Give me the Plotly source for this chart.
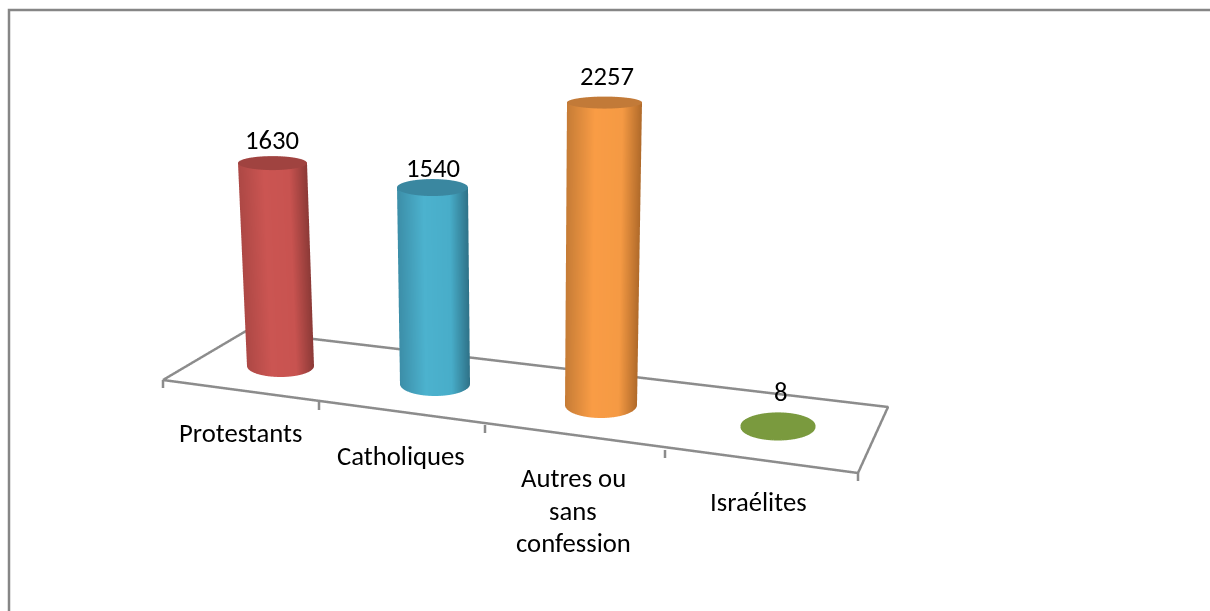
import numpy as np
import plotly.graph_objects as go

categories = ["Protestants", "Catholiques", "Autres ou<br>sans<br>confession", "Israélites"]
values = [1630, 1540, 2257, 8]
side_colors = [
    ["#ad4845", "#cb5552", "#c85350", "#8c3a37"],
    ["#3c8ea8", "#4cb2ce", "#48adc9", "#2f7288"],
    ["#c67c36", "#f99c45", "#f59a44", "#b06a2a"],
    ["#7a9a3e", "#7a9a3e", "#7a9a3e", "#7a9a3e"],
]
top_colors = ["#a04340", "#3a87a0", "#c27a38", "#7a9a3e"]

# Scene geometry, in the scene's own units
W, H = 1210, 611
SIN_EL = 0.27
EL = np.arcsin(SIN_EL)
K = 0.134
Z_RANGE = [-1000, 3000]
D_RANGE = [0, 1000]
S = H / 2
EYE_DIST = 2.414

def depth(py):
    return 500 + (439.5 - py) / SIN_EL

# per cylinder: base centre, lean, half widths and ellipse half heights, perspective factor
base_x = [280.5, 435, 601, 778]
base_py = [366, 384, 405, 427]
top_x = [272.5, 432.5, 604.5, 778]
half_w_base = [33.5, 35, 36, 37.5]
half_w_top = [34.5, 35.5, 37.5, 37.5]
ell_base = [11, 12, 13, 13.5]
ell_top = [7, 8.5, 6, 13.5]
persp = [0.929, 0.952, 1.0, 1.03]

fig = go.Figure()
theta = np.linspace(0, 2 * np.pi, 121)
t = np.linspace(0, 1, 2)
TH, T = np.meshgrid(theta, t)

def side_scale(c):
    return [[0, c[0]], [0.37, c[1]], [0.74, c[2]], [1, c[3]]]

LIGHT = dict(ambient=1, diffuse=0, specular=0, roughness=1, fresnel=0)

for i, v in enumerate(values):
    h = v * persp[i]
    cx = base_x[i] + (top_x[i] - base_x[i]) * T
    rx = half_w_base[i] + (half_w_top[i] - half_w_base[i]) * T
    ry = (ell_base[i] + (ell_top[i] - ell_base[i]) * T) / SIN_EL
    d0 = depth(base_py[i])
    X = cx + rx * np.cos(TH)
    Y = d0 + ry * np.sin(TH)
    Z = h * T
    fig.add_trace(go.Surface(x=X, y=Y, z=Z, surfacecolor=np.cos(TH), cmin=-1, cmax=1,
                             colorscale=side_scale(side_colors[i]), showscale=False,
                             lighting=LIGHT, hoverinfo="skip"))
    # top disc
    r = np.array([0.0, 1.0])
    RR, TH2 = np.meshgrid(r, theta)
    Xt = top_x[i] + half_w_top[i] * RR * np.cos(TH2)
    Yt = d0 + ell_top[i] / SIN_EL * RR * np.sin(TH2)
    Zt = np.full_like(Xt, h)
    fig.add_trace(go.Surface(x=Xt, y=Yt, z=Zt, surfacecolor=np.zeros_like(Xt), cmin=0, cmax=1,
                             colorscale=[[0, top_colors[i]], [1, top_colors[i]]], showscale=False,
                             lighting=LIGHT, hoverinfo="skip"))

# floor outline and ticks
LINE = dict(color="#8c8c8c", width=5)
floor_x = [163, 858, 888, 246, 163]
floor_py = [380, 473, 407, 331, 380]
fig.add_trace(go.Scatter3d(x=floor_x, y=[depth(p) for p in floor_py], z=[0] * 5, mode="lines",
                           line=LINE, hoverinfo="skip", showlegend=False))
tick_x = [163, 319, 485, 665, 858]
tick_py = [380, 402, 425, 450, 473]
for x, p in zip(tick_x, tick_py):
    fig.add_trace(go.Scatter3d(x=[x, x], y=[depth(p)] * 2, z=[0, -8 / K], mode="lines",
                               line=LINE, hoverinfo="skip", showlegend=False))

ann = []
FONT = dict(family="Carlito, Lato", size=26.7, color="#000000")

def z_at(p):
    return 1000 + (305.5 - p) / K

value_px = [272, 433, 607, 781]
value_py = [140, 168, 76, 392]
for v, x, p in zip(values, value_px, value_py):
    ann.append(dict(x=x, y=500, z=z_at(p), text=str(v), showarrow=False,
                    xanchor="center", yanchor="middle", font=FONT))
cat_px = [240, 401, 573, 759]
cat_py = [433, 456, 478, 502]
LINE_STEP = 32.5
for c, x, p in zip(categories, cat_px, cat_py):
    for j, part in enumerate(c.split("<br>")):
        ann.append(dict(x=x, y=500, z=z_at(p + j * LINE_STEP), text=part, showarrow=False,
                        xanchor="center", yanchor="middle", font=FONT))

hidden = dict(visible=False, showgrid=False, zeroline=False, showspikes=False, showbackground=False)
fig.update_layout(
    width=W, height=H, autosize=False, margin=dict(l=0, r=0, t=0, b=0), paper_bgcolor="white",
    showlegend=False,
    scene=dict(
        domain=dict(x=[0, 1], y=[0, 1]),
        xaxis=dict(range=[0, W], **hidden),
        yaxis=dict(range=D_RANGE, **hidden),
        zaxis=dict(range=Z_RANGE, **hidden),
        aspectmode="manual",
        aspectratio=dict(x=W / S, y=(D_RANGE[1] - D_RANGE[0]) / S,
                         z=(Z_RANGE[1] - Z_RANGE[0]) * K / np.cos(EL) / S),
        camera=dict(projection=dict(type="orthographic"), up=dict(x=0, y=0, z=1),
                    center=dict(x=0, y=0, z=0),
                    eye=dict(x=0, y=-EYE_DIST * np.cos(EL), z=EYE_DIST * SIN_EL)),
        annotations=ann,
    ),
    shapes=[dict(type="path", xref="paper", yref="paper",
                 path=f"M {9 / W} 0 L {9 / W} {1 - 10 / H} L 1 {1 - 10 / H}",
                 line=dict(color="#868686", width=2.5))],
)
fig.write_html("out.html", config=dict(displayModeBar=False),
               post_script="document.body.style.margin='0';document.body.style.overflow='hidden';")
